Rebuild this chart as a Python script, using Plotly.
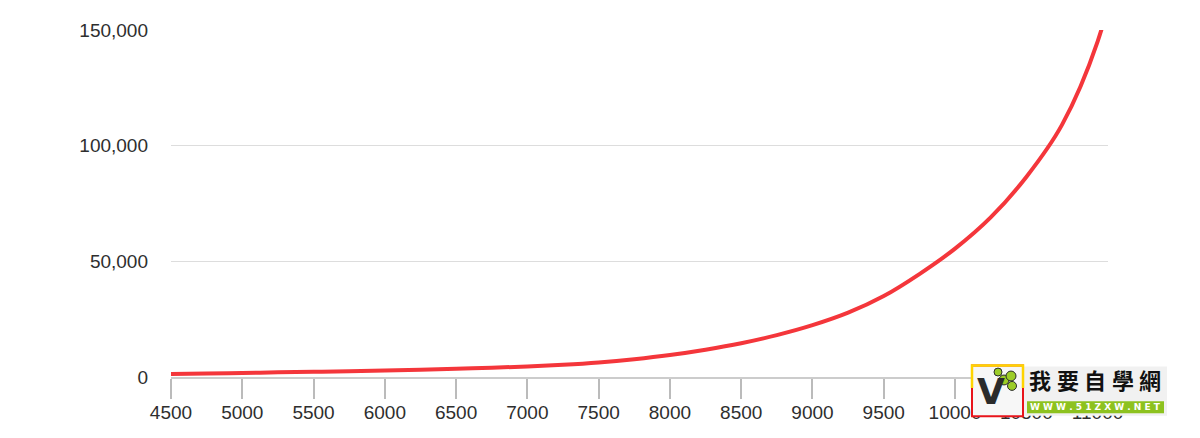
import plotly.graph_objects as go

# data
x_vals = [4500, 4750, 5000, 5250, 5500, 5750, 6000, 6250, 6500, 6750,
          7000, 7250, 7500, 7750, 8000, 8250, 8500, 8750, 9000, 9250,
          9500, 9750, 10000, 10250, 10500, 10750, 11000, 11250]
y_vals = [1300, 1500, 1750, 2000, 2250, 2500, 2800, 3150, 3550, 4000,
          4550, 5300, 6300, 7700, 9500, 11800, 14600, 18100, 22400, 27800,
          35000, 44500, 55500, 69000, 86500, 109000, 145000, 205000]

x_ticks = list(range(4500, 11001, 500))
y_ticks = [0, 50000, 100000, 150000]

# the page body adds an 8px margin, so the figure is laid out 8px up/left
OFF = 8
W, H = 1200, 438
L, R, T, B = 163, 100, 19, 69
PW, PH = W - L - R, H - T - B


def px(x):
    # viewport pixel x -> paper coordinate
    return (x - OFF - L) / PW


def py(y):
    # viewport pixel y -> paper coordinate
    return (H - B - (y - OFF)) / PH


fig = go.Figure()
fig.add_trace(go.Scatter(
    x=x_vals, y=y_vals,
    mode='lines',
    line=dict(color='#f4363b', width=4, shape='spline', smoothing=1.0),
    hoverinfo='x+y',
    showlegend=False
))

font_main = dict(family='Liberation Sans, Arial, sans-serif', size=19, color='#2e2e2e')

fig.update_layout(
    width=W, height=H,
    margin=dict(l=L, r=R, t=T, b=B),
    paper_bgcolor='white',
    plot_bgcolor='white',
    font=font_main,
    xaxis=dict(
        range=[4500, 11073],
        tickvals=x_ticks,
        ticktext=[str(v) for v in x_ticks],
        showgrid=False,
        zeroline=False,
        showline=True,
        linecolor='#cccccc',
        linewidth=1.5,
        ticks='outside',
        ticklen=20,
        tickwidth=1.5,
        tickcolor='#bbbbbb',
        ticklabelstandoff=-3,
        tickfont=font_main,
    ),
    yaxis=dict(
        range=[0, 150000],
        tickvals=y_ticks,
        tickformat=',',
        showgrid=True,
        gridcolor='#dddddd',
        gridwidth=1,
        zeroline=False,
        showline=False,
        ticks='',
        ticklabelstandoff=22,
        tickfont=font_main,
    ),
)

# watermark logo in the lower right corner
shapes = [
    dict(type='rect', xref='paper', yref='paper',
         x0=px(1023), x1=px(1167), y0=py(416), y1=py(366.5),
         fillcolor='#f1f1f1', line=dict(width=0), layer='above'),
    dict(type='rect', xref='paper', yref='paper',
         x0=px(972), x1=px(1023), y0=py(416.5), y1=py(365.5),
         fillcolor='#f7f7f7', line=dict(color='#e8141b', width=2), layer='above'),
    dict(type='path', xref='paper', yref='paper',
         path='M {} {} L {} {} L {} {} L {} {}'.format(
             px(972), py(388), px(972), py(365.5),
             px(1023), py(365.5), px(1023), py(388)),
         line=dict(color='#ffd400', width=2.5), layer='above'),
    dict(type='rect', xref='paper', yref='paper',
         x0=px(1027), x1=px(1164), y0=py(413.5), y1=py(401.5),
         fillcolor='#8dc21f', line=dict(width=0), layer='above'),
]
for cx, cy, r in [(1004, 380, 5), (1011, 376, 5), (1012, 386, 4.5), (998, 372, 4)]:
    shapes.append(dict(type='circle', xref='paper', yref='paper',
                       x0=px(cx - r), x1=px(cx + r), y0=py(cy + r), y1=py(cy - r),
                       fillcolor='#9ccc28', line=dict(color='#2b2b2b', width=1),
                       layer='above'))

annotations = [
    dict(text='<b>V</b>', xref='paper', yref='paper', x=px(991), y=py(392),
         showarrow=False, xanchor='center', yanchor='middle',
         font=dict(family='DejaVu Sans, sans-serif', size=36, color='#2b2b2b')),
    dict(text='<b>W W W . 5 1 Z X W . N E T</b>', xref='paper', yref='paper',
         x=px(1095.5), y=py(407.5), showarrow=False, xanchor='center', yanchor='middle',
         font=dict(family='DejaVu Sans, sans-serif', size=9, color='white')),
]
for i, ch in enumerate('我要自學網'):
    annotations.append(dict(
        text='<b>' + ch + '</b>', xref='paper', yref='paper',
        x=px(1040 + i * 27.5), y=py(379), showarrow=False,
        xanchor='center', yanchor='middle',
        font=dict(family='Noto Sans CJK TC, sans-serif', size=22, color='#111111')))

fig.update_layout(shapes=shapes, annotations=annotations)

fig.write_html("out.html")
